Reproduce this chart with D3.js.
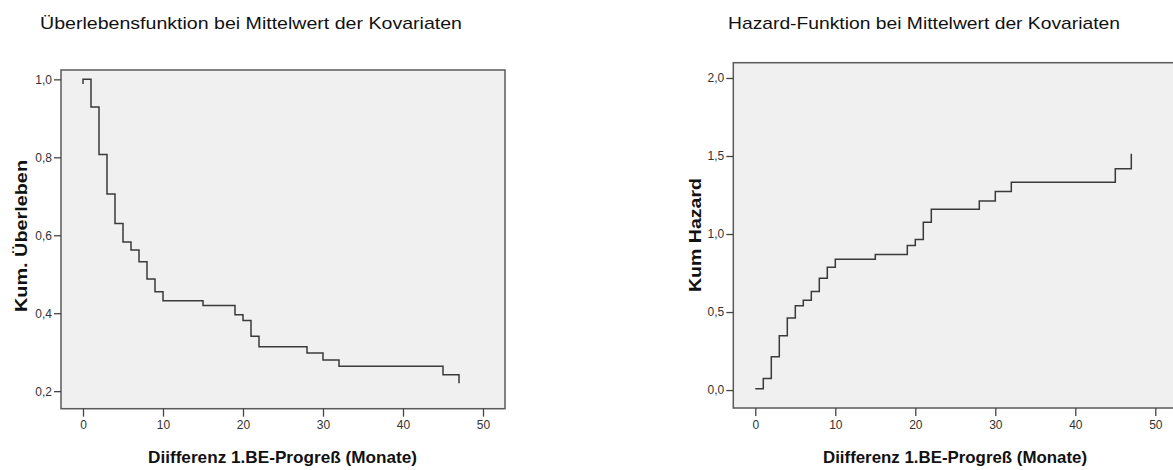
<!DOCTYPE html>
<html>
<head>
<meta charset="utf-8">
<script src="https://cdn.jsdelivr.net/npm/d3@7"></script>
<style>
  html, body { margin: 0; padding: 0; background: #ffffff; }
  svg { display: block; font-family: "Liberation Sans", Arial, sans-serif; }
</style>
</head>
<body>
<svg id="chart" width="1173" height="470"></svg>
<script>
// Event times (months) of the Cox model evaluated at covariate means
const eventTimes = [0, 1, 2, 3, 4, 5, 6, 7, 8, 9, 10, 15, 19, 20, 21, 22, 28, 30, 32, 45, 47];
// Cumulative survival at each event time
const survival = [1.0, 0.929, 0.807, 0.706, 0.630, 0.583, 0.562, 0.532, 0.488, 0.455, 0.432, 0.420, 0.396, 0.381, 0.341, 0.314, 0.298, 0.280, 0.264, 0.242, 0.220];
// Value where the survival path begins at time 0
const survivalStart = 0.988;
// Cumulative hazard at each event time
const cumHazard = [0.008, 0.074, 0.214, 0.348, 0.462, 0.540, 0.576, 0.631, 0.717, 0.787, 0.839, 0.868, 0.926, 0.965, 1.076, 1.158, 1.211, 1.273, 1.332, 1.419, 1.514];

const xTicks = [0, 10, 20, 30, 40, 50];
const survTicks = [0.2, 0.4, 0.6, 0.8, 1.0];
const hazTicks = [0.0, 0.5, 1.0, 1.5, 2.0];

const titles = ["Überlebensfunktion bei Mittelwert der Kovariaten", "Hazard-Funktion bei Mittelwert der Kovariaten"];
const xTitle = "Diifferenz 1.BE-Progreß (Monate)";
const yTitles = ["Kum. Überleben", "Kum Hazard"];

const svg = d3.select("#chart");
const fmt = v => d3.format(".1f")(v).replace(".", ",");

function panel(cfg) {
  const g = svg.append("g");
  const x = d3.scaleLinear().domain([-2.75, 52.75]).range([cfg.left, cfg.right]);
  const y = d3.scaleLinear().domain(cfg.yDomain).range([cfg.bottom, cfg.top]);

  // plot area
  g.append("rect")
    .attr("x", cfg.left).attr("y", cfg.top)
    .attr("width", cfg.right - cfg.left).attr("height", cfg.bottom - cfg.top)
    .attr("fill", "#f0f0f0").attr("stroke", "#5a5a5a").attr("stroke-width", 1.5);

  // axes
  const xAxis = d3.axisBottom(x).tickValues(xTicks).tickSize(8).tickPadding(4).tickFormat(d3.format("d"));
  const yAxis = d3.axisLeft(y).tickValues(cfg.yTicks).tickSize(7).tickPadding(2).tickFormat(fmt);

  const gx = g.append("g").attr("transform", `translate(0,${cfg.bottom})`).call(xAxis);
  const gy = g.append("g").attr("transform", `translate(${cfg.left},0)`).call(yAxis);
  [gx, gy].forEach(a => {
    a.select(".domain").remove();
    a.selectAll(".tick line").attr("stroke", "#444").attr("stroke-width", 1.3);
    a.selectAll(".tick text").attr("fill", "#333").style("font-size", "12px")
      .style("font-family", "'Liberation Sans', Arial, sans-serif");
  });

  // step curve
  const line = d3.line().curve(d3.curveStepAfter).x(d => x(d[0])).y(d => y(d[1]));
  g.append("path")
    .datum(cfg.points)
    .attr("d", line)
    .attr("fill", "none").attr("stroke", "#3a3a3a").attr("stroke-width", 1.5);

  // titles
  g.append("text")
    .attr("x", cfg.titleX).attr("y", 29)
    .attr("text-anchor", "middle").attr("fill", "#111")
    .attr("textLength", cfg.titleLen).attr("lengthAdjust", "spacingAndGlyphs")
    .style("font-size", "17px")
    .text(cfg.title);

  g.append("text")
    .attr("x", cfg.xTitleX).attr("y", 463)
    .attr("text-anchor", "middle").attr("fill", "#111")
    .attr("textLength", cfg.xTitleLen).attr("lengthAdjust", "spacingAndGlyphs")
    .style("font-size", "17px").style("font-weight", "bold")
    .text(xTitle);

  g.append("text")
    .attr("transform", `translate(${cfg.yTitleX},${cfg.yTitleY}) rotate(-90)`)
    .attr("text-anchor", "middle").attr("fill", "#111")
    .attr("textLength", cfg.yTitleLen).attr("lengthAdjust", "spacingAndGlyphs")
    .style("font-size", "17px").style("font-weight", "bold")
    .text(cfg.yTitle);
}

const survPoints = [[eventTimes[0], survivalStart]].concat(eventTimes.map((t, i) => [t, survival[i]]));
const hazPoints = eventTimes.map((t, i) => [t, cumHazard[i]]);

panel({
  left: 61, right: 505, top: 70, bottom: 408.7,
  yDomain: [0.155, 1.024], yTicks: survTicks,
  points: survPoints, title: titles[0], titleX: 251, titleLen: 422,
  xTitleX: 282.5, xTitleLen: 269,
  yTitle: yTitles[0], yTitleX: 27, yTitleY: 236, yTitleLen: 152
});

panel({
  left: 733.3, right: 1177.3, top: 62.7, bottom: 408,
  yDomain: [-0.115, 2.098], yTicks: hazTicks,
  points: hazPoints, title: titles[1], titleX: 924, titleLen: 392,
  xTitleX: 955, xTitleLen: 264,
  yTitle: yTitles[1], yTitleX: 701, yTitleY: 235, yTitleLen: 114
});
</script>
</body>
</html>
